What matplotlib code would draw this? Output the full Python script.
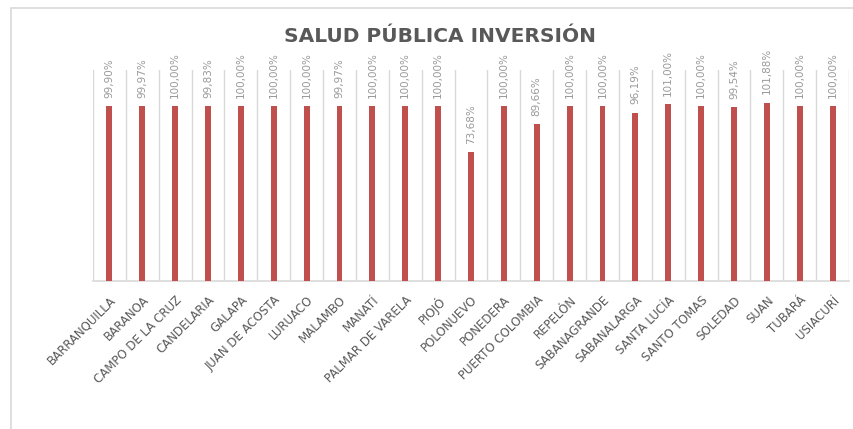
import matplotlib
matplotlib.use("Agg")
from matplotlib import pyplot as plt
from matplotlib.patches import Rectangle

municipios = ["BARRANQUILLA", "BARANOA", "CAMPO DE LA CRUZ", "CANDELARIA", "GALAPA",
              "JUAN DE ACOSTA", "LURUACO", "MALAMBO", "MANATÍ", "PALMAR DE VARELA",
              "PIOJÓ", "POLONUEVO", "PONEDERA", "PUERTO COLOMBIA", "REPELÓN",
              "SABANAGRANDE", "SABANALARGA", "SANTA LUCÍA", "SANTO TOMAS", "SOLEDAD",
              "SUAN", "TUBARÁ", "USIACURÍ"]
inversion = [99.90, 99.97, 100.00, 99.83, 100.00, 100.00, 100.00, 99.97, 100.00, 100.00,
             100.00, 73.68, 100.00, 89.66, 100.00, 100.00, 96.19, 101.00, 100.00, 99.54,
             101.88, 100.00, 100.00]

plt.rcParams['font.family'] = ['DejaVu Sans']

fig = plt.figure(figsize=(8.54, 4.29), dpi=100)
fig.patches.append(Rectangle((11/854, -0.1), 1.2, 1 - 8/429 + 0.1, transform=fig.transFigure,
                             fill=False, edgecolor='#d9d9d9', linewidth=1.2))
ax = fig.add_axes([93/854, 1 - 281/429, 756/854, 211/429])

x = list(range(len(municipios)))
ax.bar(x, inversion, width=0.18, color='#C0504D', zorder=3)

for xi, v in zip(x, inversion):
    txt = f"{v:.2f}".replace(".", ",") + "%"
    ax.annotate(txt, (xi, v), xytext=(0, 6), textcoords='offset points',
                rotation=90, ha='center', va='bottom', fontsize=7.5, color='#999999')

ax.set_xlim(-0.5, len(municipios) - 0.5)
ax.set_ylim(0, 120.6)
for b in range(len(municipios) + 1):
    ax.axvline(b - 0.5, color='#d9d9d9', linewidth=1, zorder=1)

ax.set_xticks(x)
ax.set_xticklabels(municipios, rotation=45, ha='right', rotation_mode='anchor',
                   fontsize=8.5, color='#595959')
ax.tick_params(axis='x', length=0, pad=9)
ax.set_yticks([])
for s in ['top', 'left', 'right']:
    ax.spines[s].set_visible(False)
ax.spines['bottom'].set_color('#d9d9d9')
ax.spines['bottom'].set_linewidth(1.2)

fig.text(440/854, 1 - 36/429, "SALUD PÚBLICA INVERSIÓN", ha='center', va='center',
         fontsize=14.5, fontweight='bold', color='#595959')

fig.savefig("out.png", dpi=100)
